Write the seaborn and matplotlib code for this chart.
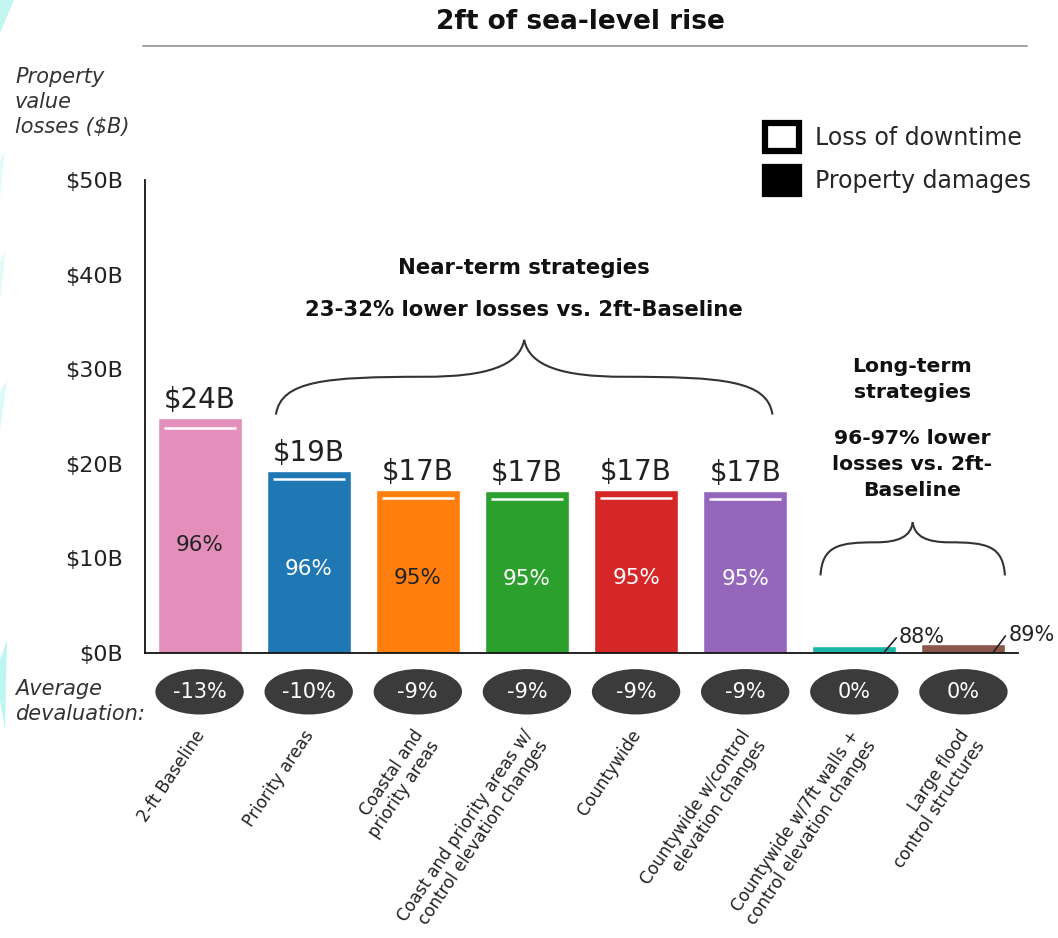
import matplotlib
matplotlib.use("Agg")
import matplotlib.pyplot as plt
import numpy as np
import pandas as pd
import seaborn as sns
from matplotlib.patches import Ellipse, Patch, PathPatch, Polygon
from matplotlib.path import Path
from matplotlib.lines import Line2D
from matplotlib.transforms import ScaledTranslation

# ---- data -------------------------------------------------------------
strategies = [
    "2-ft Baseline",
    "Priority areas",
    "Coastal and\npriority areas",
    "Coast and priority areas w/\ncontrol elevation changes",
    "Countywide",
    "Countywide w/control\nelevation changes",
    "Countywide w/7ft walls +\ncontrol elevation changes",
    "Large flood\ncontrol structures",
]
total_losses = [24.8, 19.2, 17.2, 17.1, 17.2, 17.1, 0.75, 0.95]   # $B
damage_share = [96, 96, 95, 95, 95, 95, 88, 89]                  # % of losses from property damage
avg_devaluation = [-13, -10, -9, -9, -9, -9, 0, 0]              # %
bar_colors = ["#e48fbb", "#1f77b4", "#ff7f0e", "#2ca02c",
              "#d62728", "#9467bd", "#1bb5a6", "#8c564b"]
share_text_colors = ["#222222", "white", "#222222", "white",
                     "white", "white", "#222222", "#222222"]
y_ticks = [0, 10, 20, 30, 40, 50]

df = pd.DataFrame({"strategy": strategies, "total": total_losses})

# ---- figure -----------------------------------------------------------
sns.set_theme(style="white")
plt.rcParams["font.family"] = ["DejaVu Sans"]

W, H = 1058, 938
fig = plt.figure(figsize=(W / 100, H / 100), dpi=100)
ax = fig.add_axes([145 / W, 1 - 653 / H, 873 / W, 473 / H])

BAR_W = 0.77
sns.barplot(data=df, x="strategy", y="total", hue="strategy",
            palette=bar_colors, width=BAR_W, saturation=1,
            legend=False, ax=ax)

ax.set_xlim(-0.5, 7.5)
ax.set_ylim(0, 50)
ax.set_xlabel("")
ax.set_ylabel("")
ax.set_yticks(y_ticks)
ax.set_yticklabels([f"${v}B" for v in y_ticks], fontsize=16, color="#222222")
ax.tick_params(axis="y", length=0, pad=16)
ax.tick_params(axis="x", length=0, pad=53)
for s in ["top", "right"]:
    ax.spines[s].set_visible(False)
for s in ["left", "bottom"]:
    ax.spines[s].set_color("#111111")
    ax.spines[s].set_linewidth(1.3)

# rotated category labels
shift = ScaledTranslation(-6 / 100, 0, fig.dpi_scale_trans)
for lab in ax.get_xticklabels():
    lab.set_rotation(56)
    lab.set_ha("right")
    lab.set_va("top")
    lab.set_rotation_mode("anchor")
    lab.set_multialignment("right")
    lab.set_fontsize(12.2)
    lab.set_color("#222222")
    lab.set_linespacing(1.1)
    lab.set_transform(lab.get_transform() + shift)

# ---- bar annotations ----------------------------------------------------
for i, (tot, share, col) in enumerate(zip(total_losses, damage_share, share_text_colors)):
    if tot > 2:
        dmg = tot * share / 100
        inset = 0.055
        ax.hlines(dmg, i - BAR_W / 2 + inset, i + BAR_W / 2 - inset,
                  color="white", lw=1.8, zorder=4)
        ax.text(i, tot + 0.5, f"${int(tot)}B", ha="center", va="bottom",
                fontsize=20, color="#222222")
        ax.text(i, tot * 0.46, f"{share}%", ha="center", va="center",
                fontsize=15.5, color=col)
    else:
        ax.plot([i + 0.275, i + 0.385], [0.1, tot + 0.85], color="#222222",
                lw=1.2, clip_on=False, zorder=5)
        ax.text(i + 0.41, tot + 0.9, f"{share}%", ha="left", va="center",
                fontsize=15, color="#222222", clip_on=False)

# devaluation ovals below the axis
for i, dv in enumerate(avg_devaluation):
    e = Ellipse((i, -4.1), width=0.81, height=4.8, facecolor="#3b3b3b",
                edgecolor="none", clip_on=False, zorder=3)
    ax.add_patch(e)
    ax.text(i, -4.1, f"{dv}%", ha="center", va="center", fontsize=15,
            color="white", zorder=4, clip_on=False)


# ---- curly braces -------------------------------------------------------
def brace(ax, x0, x1, yb, ym, yt, **kw):
    xc = (x0 + x1) / 2
    L = xc - x0
    verts = [
        (x0, yb),
        (x0 + 0.02 * L, yb + 0.9 * (ym - yb)), (x0 + 0.2 * L, ym), (x0 + 0.6 * L, ym),
        (x0 + 0.85 * L, ym), (xc - 0.02 * L, ym + 0.3 * (yt - ym)), (xc, yt),
        (xc + 0.02 * L, ym + 0.3 * (yt - ym)), (x1 - 0.85 * L, ym), (x1 - 0.6 * L, ym),
        (x1 - 0.2 * L, ym), (x1 - 0.02 * L, yb + 0.9 * (ym - yb)), (x1, yb),
    ]
    codes = [Path.MOVETO] + [Path.CURVE4] * 12
    ax.add_patch(PathPatch(Path(verts, codes), facecolor="none", clip_on=False, **kw))


brace(ax, 0.7, 5.25, 25.2, 29.2, 33.1, edgecolor="#333333", lw=1.5)
brace(ax, 5.69, 7.38, 8.2, 11.7, 13.8, edgecolor="#333333", lw=1.5)

ax.text(2.975, 40.7, "Near-term strategies", ha="center", va="center",
        fontsize=15.3, fontweight="bold", color="#111111")
ax.text(2.975, 36.3, "23-32% lower losses vs. 2ft-Baseline", ha="center",
        va="center", fontsize=15.3, fontweight="bold", color="#111111")
ax.text(6.53, 28.9, "Long-term\nstrategies", ha="center", va="center",
        fontsize=14.7, fontweight="bold", color="#111111", linespacing=1.45)
ax.text(6.53, 19.9, "96-97% lower\nlosses vs. 2ft-\nBaseline", ha="center",
        va="center", fontsize=14.7, fontweight="bold", color="#111111",
        linespacing=1.45)

# ---- legend -------------------------------------------------------------
handles = [Patch(facecolor="white", edgecolor="black", lw=4.5),
           Patch(facecolor="black", edgecolor="black", lw=4.5)]
ax.legend(handles, ["Loss of downtime", "Property damages"],
          loc="upper left", bbox_to_anchor=(765 / W, 1 - 123 / H),
          bbox_transform=fig.transFigure, frameon=False, fontsize=17,
          handlelength=1.42, handleheight=1.42, handletextpad=0.7,
          labelspacing=0.68, borderpad=0, borderaxespad=0)

# ---- titles and side labels -------------------------------------------------
fig.text(580 / W, 1 - 22 / H, "2ft of sea-level rise", ha="center", va="center",
         fontsize=19, fontweight="bold", color="#111111")
fig.add_artist(Line2D([143 / W, 1027 / W], [1 - 46 / H, 1 - 46 / H],
                      color="#9a9a9a", lw=1.3, transform=fig.transFigure))
fig.text(15 / W, 1 - 67 / H, "Property\nvalue\nlosses ($B)", ha="left", va="top",
         fontsize=15, style="italic", color="#333333", linespacing=1.3)
fig.text(15 / W, 1 - 679 / H, "Average\ndevaluation:", ha="left", va="top",
         fontsize=15, style="italic", color="#333333", linespacing=1.3)

# ---- pale cyan brush strokes along the left edge ------------------------------
strokes = [
    ([(0, 33), (0, 0), (14, 0)], 0.55),
    ([(0, 200), (0, 160), (5, 150)], 0.25),
    ([(0, 300), (0, 262), (6, 250)], 0.25),
    ([(0, 432), (0, 392), (7, 380)], 0.3),
    ([(5, 730), (0, 700), (0, 660), (7, 640)], 0.6),
]
for pts, a in strokes:
    fig.add_artist(Polygon([(x / W, 1 - y / H) for x, y in pts], closed=True,
                           facecolor="#8ef0e6", edgecolor="none", alpha=a,
                           transform=fig.transFigure))

fig.savefig("out.png", dpi=100, facecolor="white")
